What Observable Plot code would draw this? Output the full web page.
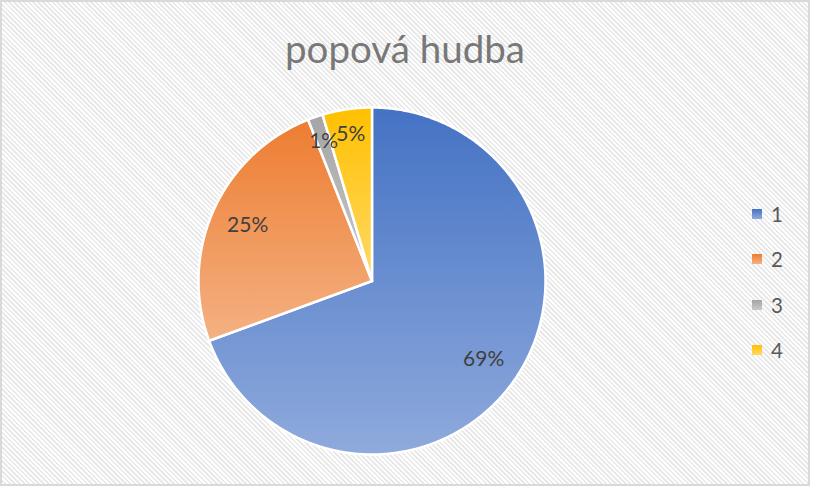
<!DOCTYPE html>
<html><head><meta charset="utf-8">
<script src="https://cdn.jsdelivr.net/npm/d3@7"></script>
<script src="https://cdn.jsdelivr.net/npm/@observablehq/plot@0.6"></script>
<style>
html,body{margin:0;padding:0;background:#fff;}
#wrap{position:absolute;left:0;top:0;width:810px;height:486px;box-sizing:border-box;border:2px solid #d9d9d9;
  background:repeating-linear-gradient(45deg,#ffffff 0px,#ffffff 1.6px,#e9e9e9 1.6px,#e9e9e9 3.4px);overflow:hidden;}
#chart{position:absolute;left:0;top:0;}
#title{position:absolute;left:0;top:28.5px;width:810px;text-align:center;font-family:Lato,sans-serif;font-size:38.5px;line-height:38px;color:#787878;}
.leg{position:absolute;left:752px;display:flex;align-items:center;height:20px;font-family:Lato,sans-serif;font-size:20.5px;line-height:20px;color:#595959;}
.leg .sw{width:10px;height:10px;margin-right:9px;}
</style>
</head><body>
<div id="wrap"></div>
<div id="chart"></div>
<div id="title">popová hudba</div>
<div id="legend"></div>
<script>
const categories = ["1", "2", "3", "4"];
const values = [69.4, 24.6, 1.4, 4.6];
const colorsTop = ["#4472C4", "#ED7D31", "#A5A5A5", "#FFC000"];
const colorsBottom = ["#8FAADC", "#F4B183", "#C9C9C9", "#FFD966"];

const W = 813, H = 488, cx = 371.5, cy = 280.5, R = 173.5;

const total = d3.sum(values);
let acc = 0;
const slices = values.map((v, i) => {
  const a0 = acc / total * 2 * Math.PI;
  acc += v;
  const a1 = acc / total * 2 * Math.PI;
  const pts = [{x: 0, y: 0}];
  const n = Math.max(2, Math.ceil((a1 - a0) / (Math.PI / 360)));
  for (let k = 0; k <= n; k++) {
    const a = a0 + (a1 - a0) * k / n;
    pts.push({x: Math.sin(a), y: Math.cos(a)});
  }
  pts.push({x: 0, y: 0});
  const mid = (a0 + a1) / 2;
  const lr = v / total < 0.1 ? 0.852 : 0.785;
  return {i, cat: categories[i], v, pts, lx: lr * Math.sin(mid), ly: lr * Math.cos(mid), label: Math.round(v / total * 100) + "%"};
});

const chart = Plot.plot({
  width: W, height: H, margin: 0,
  style: {background: "transparent", overflow: "visible"},
  x: {domain: [-cx / R, (W - cx) / R], axis: null},
  y: {domain: [-(H - cy) / R, cy / R], axis: null},
  marks: [
    ...slices.map(s => Plot.line(s.pts, {x: "x", y: "y", fill: `url(#grad${s.i})`, stroke: "white", strokeWidth: 2.5, strokeLinejoin: "round", curve: "linear"})),
    Plot.text(slices, {x: "lx", y: "ly", text: "label", fontSize: 21, fill: "#404040", fontFamily: "Lato, sans-serif"})
  ]
});

const defs = d3.select(chart).insert("defs", ":first-child");
colorsTop.forEach((c, i) => {
  const g = defs.append("linearGradient").attr("id", "grad" + i)
    .attr("x1", 0).attr("y1", 0).attr("x2", 0).attr("y2", 1);
  g.append("stop").attr("offset", "0%").attr("stop-color", c);
  g.append("stop").attr("offset", "100%").attr("stop-color", colorsBottom[i]);
});
document.getElementById("chart").appendChild(chart);

const legend = document.getElementById("legend");
categories.forEach((c, i) => {
  const d = document.createElement("div");
  d.className = "leg";
  d.style.top = (203.5 + i * 45.5) + "px";
  d.innerHTML = `<div class="sw" style="background:linear-gradient(${colorsTop[i]},${colorsBottom[i]})"></div><span>${c}</span>`;
  legend.appendChild(d);
});
</script>
</body></html>
